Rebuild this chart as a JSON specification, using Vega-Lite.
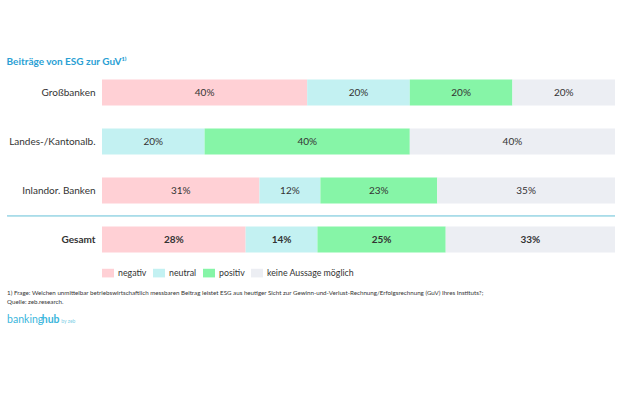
{
  "$schema": "https://vega.github.io/schema/vega-lite/v6.json",
  "padding": {"left": 6, "right": 6, "top": 57, "bottom": 5},
  "background": "white",
  "config": {"view": {"stroke": null}, "font": "Lato", "concat": {"spacing": 10}},
  "title": {"text": "Beiträge von ESG zur GuV¹⁾", "anchor": "start", "frame": "bounds", "fontSize": 10, "fontWeight": "bold", "color": "#2a9fd4", "offset": 1},
  "resolve": {"legend": {"color": "independent"}, "scale": {"color": "independent", "x": "independent", "y": "independent"}},
  "vconcat": [
    {
      "width": 513,
      "height": 196,
      "data": {"values": [
        {"bank": "Großbanken", "cat": "negativ", "o": 1, "value": 0.40},
        {"bank": "Großbanken", "cat": "neutral", "o": 2, "value": 0.20},
        {"bank": "Großbanken", "cat": "positiv", "o": 3, "value": 0.20},
        {"bank": "Großbanken", "cat": "keine Aussage möglich", "o": 4, "value": 0.20},
        {"bank": "Landes-/Kantonalb.", "cat": "neutral", "o": 2, "value": 0.20},
        {"bank": "Landes-/Kantonalb.", "cat": "positiv", "o": 3, "value": 0.40},
        {"bank": "Landes-/Kantonalb.", "cat": "keine Aussage möglich", "o": 4, "value": 0.40},
        {"bank": "Inlandor. Banken", "cat": "negativ", "o": 1, "value": 0.31},
        {"bank": "Inlandor. Banken", "cat": "neutral", "o": 2, "value": 0.12},
        {"bank": "Inlandor. Banken", "cat": "positiv", "o": 3, "value": 0.23},
        {"bank": "Inlandor. Banken", "cat": "keine Aussage möglich", "o": 4, "value": 0.35},
        {"bank": "Gesamt", "cat": "negativ", "o": 1, "value": 0.28},
        {"bank": "Gesamt", "cat": "neutral", "o": 2, "value": 0.14},
        {"bank": "Gesamt", "cat": "positiv", "o": 3, "value": 0.25},
        {"bank": "Gesamt", "cat": "keine Aussage möglich", "o": 4, "value": 0.33}
      ]},
      "encoding": {
        "y": {
          "field": "bank", "type": "nominal",
          "sort": ["Großbanken", "Landes-/Kantonalb.", "Inlandor. Banken", "Gesamt"],
          "scale": {"paddingInner": 0.47, "paddingOuter": 0.235},
          "axis": {
            "title": null, "domain": false, "ticks": false, "labelPadding": 7,
            "labelFontSize": 10, "labelColor": "#333333",
            "labelFontWeight": {"condition": {"test": "datum.value === 'Gesamt'", "value": "bold"}, "value": "normal"}
          }
        }
      },
      "layer": [
        {
          "mark": {"type": "bar"},
          "encoding": {
            "x": {"field": "value", "type": "quantitative", "stack": "normalize", "scale": {"domain": [0, 1]}, "axis": null},
            "color": {
              "field": "cat", "type": "nominal",
              "scale": {"domain": ["negativ", "neutral", "positiv", "keine Aussage möglich"], "range": ["#ffd0d5", "#c3f1f2", "#86f5a7", "#eceef3"]},
              "legend": {
                "title": null, "orient": "bottom", "direction": "horizontal", "offset": 3,
                "symbolType": "M-1,-0.72H1V0.72H-1Z", "symbolSize": 144, "symbolStrokeWidth": 0,
                "labelFontSize": 8.8, "labelColor": "#333333", "columnPadding": 6, "labelOffset": 4
              }
            },
            "order": {"field": "o"}
          }
        },
        {
          "transform": [{"filter": "datum.bank !== 'Gesamt'"}],
          "mark": {"type": "text", "fontSize": 10, "color": "#333333"},
          "encoding": {
            "x": {"field": "value", "type": "quantitative", "stack": "normalize", "bandPosition": 0.5},
            "text": {"field": "value", "type": "quantitative", "format": ".0%"},
            "order": {"field": "o"}
          }
        },
        {
          "transform": [{"filter": "datum.bank === 'Gesamt'"}],
          "mark": {"type": "text", "fontSize": 10, "fontWeight": "bold", "color": "#333333"},
          "encoding": {
            "x": {"field": "value", "type": "quantitative", "stack": "normalize", "bandPosition": 0.5},
            "text": {"field": "value", "type": "quantitative", "format": ".0%"},
            "order": {"field": "o"}
          }
        },
        {
          "mark": {"type": "rule", "color": "#a9dcea", "strokeWidth": 1, "clip": false},
          "encoding": {
            "y": {"datum": "Gesamt", "type": "nominal", "bandPosition": -0.42},
            "x": {"datum": -0.185, "type": "quantitative"},
            "x2": {"datum": 1}
          }
        }
      ]
    },
    {
      "width": 513,
      "height": 36,
      "data": {"values": [
        {"line": 1, "text": "1) Frage: Welchen unmittelbar betriebswirtschaftlich messbaren Beitrag leistet ESG aus heutiger Sicht zur Gewinn-und-Verlust-Rechnung/Erfolgsrechnung (GuV) Ihres Instituts?;"},
        {"line": 2, "text": "Quelle: zeb.research."},
        {"line": 4, "text": "banking", "part": "a"},
        {"line": 4, "text": "hub", "part": "b"},
        {"line": 4, "text": "by zeb", "part": "c"}
      ]},
      "encoding": {
        "y": {"field": "line", "type": "quantitative", "scale": {"domain": [0.5, 4.5], "reverse": true}, "axis": null}
      },
      "layer": [
        {
          "transform": [{"filter": "datum.line < 3"}],
          "mark": {"type": "text", "align": "left", "baseline": "middle", "fontSize": 6.2, "color": "#333333"},
          "encoding": {
            "x": {"datum": -0.185, "type": "quantitative", "scale": {"domain": [0, 1]}, "axis": null},
            "text": {"field": "text"}
          }
        },
        {
          "transform": [{"filter": "datum.part === 'a'"}],
          "mark": {"type": "text", "align": "left", "baseline": "middle", "fontSize": 10.5, "color": "#3bb6dc"},
          "encoding": {
            "x": {"datum": -0.185, "type": "quantitative"},
            "text": {"field": "text"}
          }
        },
        {
          "transform": [{"filter": "datum.part === 'b'"}],
          "mark": {"type": "text", "align": "left", "baseline": "middle", "fontSize": 10.5, "fontWeight": "bold", "color": "#3bb6dc"},
          "encoding": {
            "x": {"datum": -0.1175, "type": "quantitative"},
            "text": {"field": "text"}
          }
        },
        {
          "transform": [{"filter": "datum.part === 'c'"}],
          "mark": {"type": "text", "align": "left", "baseline": "middle", "fontSize": 5, "dy": 1.5, "color": "#7fcfe6"},
          "encoding": {
            "x": {"datum": -0.0795, "type": "quantitative"},
            "text": {"field": "text"}
          }
        }
      ]
    }
  ]
}
